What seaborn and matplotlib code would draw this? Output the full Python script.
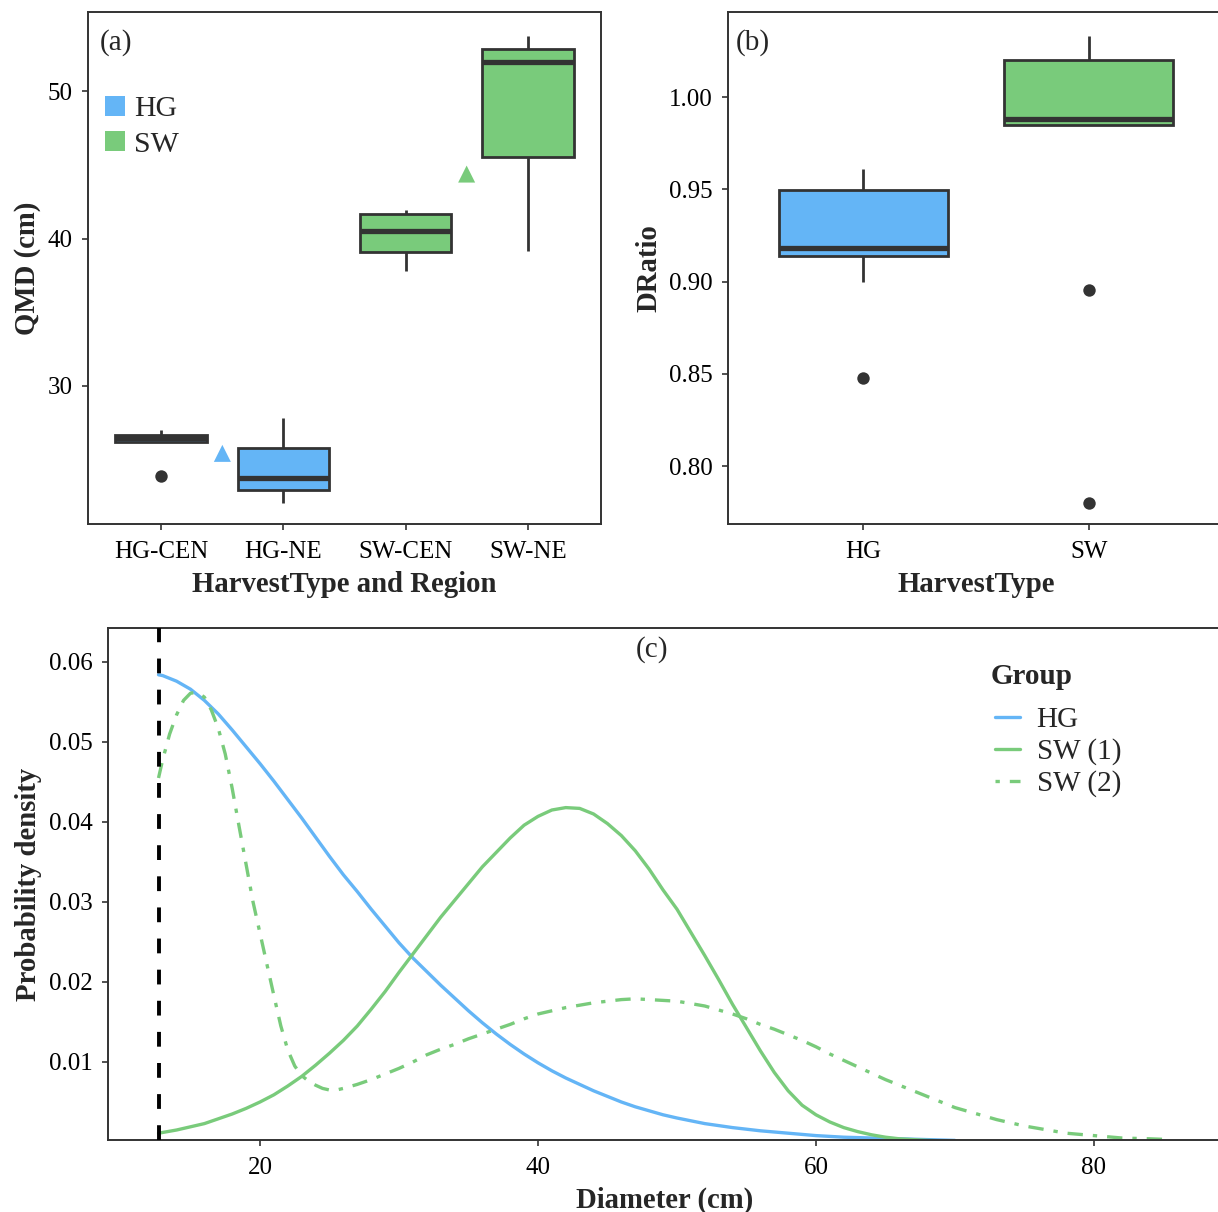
import numpy as np
import pandas as pd
import matplotlib
matplotlib.use("Agg")
import matplotlib.pyplot as plt
import seaborn as sns
from matplotlib.patches import Patch
from matplotlib.lines import Line2D

# ---------------- data ----------------
# panel (a): QMD by harvest type and region (box statistics)
region_cats = ["HG-CEN", "HG-NE", "SW-CEN", "SW-NE"]
region_type = ["HG", "HG", "SW", "SW"]
qmd_whislo = [26.20, 22.04, 37.82, 39.15]
qmd_q1 = [26.20, 22.93, 39.09, 45.55]
qmd_med = [26.45, 23.79, 40.51, 51.98]
qmd_q3 = [26.66, 25.82, 41.67, 52.87]
qmd_whishi = [27.02, 27.81, 41.91, 53.71]
qmd_outlier_cat = ["HG-CEN"]
qmd_outlier_val = [23.9]
type_names = ["HG", "SW"]
type_mean_qmd = [25.43, 44.37]

# panel (b): DRatio by harvest type
ratio_cats = ["HG", "SW"]
ratio_whislo = [0.9000, 0.9850]
ratio_q1 = [0.9137, 0.9850]
ratio_med = [0.9180, 0.9881]
ratio_q3 = [0.9494, 1.0200]
ratio_whishi = [0.9608, 1.0331]
ratio_outlier_cat = ["HG", "SW", "SW"]
ratio_outlier_val = [0.8477, 0.8953, 0.7800]

# panel (c): probability density curves
hg_d = [12.7, 13, 14, 15, 16, 17, 18, 19, 20, 21, 22, 23, 24, 25, 26, 27, 28, 29, 30,
        31, 32, 33, 34, 35, 36, 37, 38, 39, 40, 41, 42, 43, 44, 45, 46, 47, 48, 49, 50,
        52, 54, 56, 58, 60, 62, 64, 66, 68, 70]
hg_p = [0.0584, 0.0583, 0.0576, 0.0566, 0.0552, 0.0535, 0.0515, 0.0494, 0.0473, 0.0451,
        0.0428, 0.0405, 0.0381, 0.0357, 0.0334, 0.0313, 0.0291, 0.0270, 0.0249,
        0.0230, 0.0213, 0.0196, 0.0180, 0.0164, 0.0149, 0.0135, 0.0122, 0.0110, 0.0099,
        0.0089, 0.0080, 0.0072, 0.0064, 0.0057, 0.0050, 0.0044, 0.0039, 0.0034, 0.0030,
        0.0023, 0.0018, 0.0014, 0.0011, 0.0008, 0.0006, 0.0005, 0.0004, 0.0003, 0.0002]
sw1_d = [12.7, 14, 15, 16, 17, 18, 19, 20, 21, 22, 23, 24, 25, 26, 27, 28, 29, 30, 31,
         32, 33, 34, 35, 36, 37, 38, 39, 40, 41, 42, 43, 44, 45, 46, 47, 48, 49, 50, 51,
         52, 53, 54, 55, 56, 57, 58, 59, 60, 61, 62, 63, 64, 65, 66, 68, 70, 74]
sw1_p = [0.0011, 0.0015, 0.0019, 0.0023, 0.0029, 0.0035, 0.0042, 0.0050, 0.0059, 0.0070,
         0.0082, 0.0096, 0.0111, 0.0127, 0.0145, 0.0166, 0.0188, 0.0212, 0.0235,
         0.0258, 0.0281, 0.0302, 0.0323, 0.0344, 0.0362, 0.0380, 0.0396, 0.0407, 0.0415,
         0.0418, 0.0417, 0.0410, 0.0398, 0.0383, 0.0364, 0.0341, 0.0315, 0.0291, 0.0262,
         0.0233, 0.0203, 0.0172, 0.0143, 0.0114, 0.0087, 0.0064, 0.0046, 0.0034, 0.0025,
         0.0018, 0.0013, 0.0009, 0.0006, 0.0004, 0.0002, 0.0001, 0.0000]
sw2_d = [12.7, 13.0, 13.5, 14.0, 14.5, 15.0, 15.5, 16.0, 16.5, 17.0, 17.5, 18.0, 18.5,
         19.0, 19.5, 20.0, 20.5, 21.0, 21.5, 22.0, 22.5, 23.0, 23.5, 24.0, 24.5, 25.0,
         25.5, 26.0, 27, 28, 29, 30, 31, 32, 33, 34, 35, 36, 37, 38, 39, 40, 41, 42, 43,
         44, 45, 46, 47, 48, 49, 50, 51, 52, 53, 54, 55, 56, 57, 58, 59, 60, 61, 62, 63,
         64, 65, 66, 67, 68, 69, 70, 71, 72, 73, 74, 75, 76, 77, 78, 80, 82, 84, 85.5]
sw2_p = [0.0455, 0.0478, 0.0510, 0.0534, 0.0552, 0.0561, 0.0562, 0.0556, 0.0540, 0.0517,
         0.0485, 0.0442, 0.0394, 0.0347, 0.0300, 0.0261, 0.0222, 0.0183, 0.0145, 0.0115,
         0.0095, 0.0083, 0.0076, 0.0071, 0.0067, 0.0065, 0.0065, 0.0067, 0.0072, 0.0078,
         0.0085, 0.0092, 0.0100, 0.0109, 0.0116, 0.0122, 0.0129, 0.0135, 0.0141, 0.0147,
         0.0154, 0.0160, 0.0164, 0.0168, 0.0171, 0.0174, 0.0176, 0.0178, 0.0179, 0.0178,
         0.0177, 0.0176, 0.0173, 0.0170, 0.0165, 0.0160, 0.0154, 0.0147, 0.0141, 0.0134,
         0.0127, 0.0119, 0.0110, 0.0102, 0.0094, 0.0086, 0.0078, 0.0071, 0.0064, 0.0057,
         0.0050, 0.0043, 0.0038, 0.0033, 0.0028, 0.0024, 0.0020, 0.0017, 0.0014, 0.0011,
         0.0008, 0.0005, 0.0004, 0.0003]
group_names = ["HG", "SW (1)", "SW (2)"]
min_diameter = 12.7

# ---------------- style ----------------
BLUE = "#64B5F6"
GREEN = "#79CB7B"
DARK = "#333333"
sns.set_style("ticks")
plt.rcParams["font.family"] = ["Liberation Serif", "DejaVu Serif"]
plt.rcParams["axes.edgecolor"] = DARK
plt.rcParams["axes.linewidth"] = 1.4
plt.rcParams["xtick.color"] = DARK
plt.rcParams["ytick.color"] = DARK
plt.rcParams["xtick.labelcolor"] = "black"
plt.rcParams["ytick.labelcolor"] = "black"
plt.rcParams["xtick.major.size"] = 4.5
plt.rcParams["ytick.major.size"] = 4.5
plt.rcParams["xtick.major.width"] = 1.2
plt.rcParams["ytick.major.width"] = 1.2
plt.rcParams["xtick.major.pad"] = 7.5
plt.rcParams["ytick.major.pad"] = 6.5
plt.rcParams["xtick.labelsize"] = 18
plt.rcParams["ytick.labelsize"] = 18

W, H = 1218, 1212
fig = plt.figure(figsize=(W / 100, H / 100), dpi=100)
fig.patch.set_facecolor("white")


def ax_at(l, t, r, b):
    return fig.add_axes([l / W, 1 - b / H, (r - l) / W, (b - t) / H])


ax_a = ax_at(88, 12, 601, 524)
ax_b = ax_at(728, 12, 1224, 524)
ax_c = ax_at(108, 628, 1221, 1140)

type_pal = {"HG": BLUE, "SW": GREEN}
box_kw = dict(width=0.75, linecolor=DARK, linewidth=2.0, saturation=1, showcaps=False,
              showfliers=False, whis=(0, 100), medianprops={"linewidth": 3.8},
              legend=False)
LAB = 20.7

# ---------------- panel (a) ----------------
stats_a = np.column_stack([qmd_whislo, qmd_q1, qmd_med, qmd_q3, qmd_whishi])
df_a = pd.DataFrame({
    "Group": np.repeat(region_cats, 5),
    "Type": np.repeat(region_type, 5),
    "QMD": stats_a.ravel(),
})
sns.boxplot(data=df_a, x="Group", y="QMD", hue="Type", order=region_cats,
            palette=type_pal, dodge=False, ax=ax_a, **box_kw)
ax_a.scatter([region_cats.index(c) for c in qmd_outlier_cat], qmd_outlier_val,
             s=80, color=DARK, zorder=5, linewidths=0)
# group means drawn between the two regions of each harvest type
mean_x = [np.mean([i for i, t in enumerate(region_type) if t == tn]) for tn in type_names]
ax_a.scatter(mean_x, type_mean_qmd, marker="^", s=150,
             color=[type_pal[t] for t in type_names], zorder=5, linewidths=0)
ax_a.set_xlim(-0.6, 3.6)
ax_a.set_ylim(20.64, 55.36)
ax_a.set_yticks([30, 40, 50])
ax_a.set_xlabel("HarvestType and Region", fontsize=LAB, fontweight="bold", labelpad=6)
ax_a.set_ylabel("QMD (cm)", fontsize=LAB, fontweight="bold", labelpad=5)
ax_a.text(0.023, 0.941, "(a)", transform=ax_a.transAxes, fontsize=21,
          ha="left", va="center")
ax_a.legend(handles=[Patch(facecolor=type_pal[t], edgecolor="none", label=t)
                     for t in type_names],
            loc="upper left", bbox_to_anchor=(0.004, 0.866), frameon=False,
            fontsize=21.5, handlelength=0.67, handleheight=0.67,
            handletextpad=0.3, labelspacing=0.3, borderpad=0)

# ---------------- panel (b) ----------------
stats_b = np.column_stack([ratio_whislo, ratio_q1, ratio_med, ratio_q3, ratio_whishi])
df_b = pd.DataFrame({
    "HarvestType": np.repeat(ratio_cats, 5),
    "DRatio": stats_b.ravel(),
})
sns.boxplot(data=df_b, x="HarvestType", y="DRatio", hue="HarvestType", order=ratio_cats,
            palette=type_pal, dodge=False, ax=ax_b, **box_kw)
ax_b.scatter([ratio_cats.index(c) for c in ratio_outlier_cat], ratio_outlier_val,
             s=80, color=DARK, zorder=5, linewidths=0)
ax_b.set_xlim(-0.6, 1.6)
ax_b.set_ylim(0.7686, 1.0461)
bt = [0.80, 0.85, 0.90, 0.95, 1.00]
ax_b.set_yticks(bt)
ax_b.set_yticklabels([f"{v:.2f}" for v in bt])
ax_b.set_xlabel("HarvestType", fontsize=LAB, fontweight="bold", labelpad=6)
ax_b.set_ylabel("DRatio", fontsize=LAB, fontweight="bold", labelpad=5)
ax_b.text(0.016, 0.941, "(b)", transform=ax_b.transAxes, fontsize=21,
          ha="left", va="center")

# ---------------- panel (c) ----------------
df_c = pd.concat([
    pd.DataFrame({"Diameter": hg_d, "Density": hg_p, "Group": group_names[0]}),
    pd.DataFrame({"Diameter": sw1_d, "Density": sw1_p, "Group": group_names[1]}),
    pd.DataFrame({"Diameter": sw2_d, "Density": sw2_p, "Group": group_names[2]}),
], ignore_index=True)
line_pal = {group_names[0]: BLUE, group_names[1]: GREEN, group_names[2]: GREEN}
line_dash = {group_names[0]: "", group_names[1]: "", group_names[2]: (4.6, 3.0, 1.3, 3.0)}
LW = 2.4
sns.lineplot(data=df_c, x="Diameter", y="Density", hue="Group", style="Group",
             palette=line_pal, dashes=line_dash, estimator=None, sort=False,
             linewidth=LW, legend=False, ax=ax_c)
ax_c.axvline(min_diameter, color="black", linewidth=2.8, dashes=(3.8, 4.2), zorder=6)
ax_c.set_xlim(9.065, 89.14)
ax_c.set_ylim(0.00025, 0.06425)
ax_c.set_xticks([20, 40, 60, 80])
yt = [0.01, 0.02, 0.03, 0.04, 0.05, 0.06]
ax_c.set_yticks(yt)
ax_c.set_yticklabels([f"{v:.2f}" for v in yt])
ax_c.set_xlabel("Diameter (cm)", fontsize=LAB, fontweight="bold", labelpad=6)
ax_c.set_ylabel("Probability density", fontsize=LAB, fontweight="bold", labelpad=5)
ax_c.text(0.4888, 0.957, "(c)", transform=ax_c.transAxes, fontsize=21,
          ha="center", va="center")
ax_c.text(0.7934, 0.906, "Group", transform=ax_c.transAxes, fontsize=21,
          fontweight="bold", ha="left", va="center")
handles_c = []
for g in group_names:
    h = Line2D([], [], color=line_pal[g], linewidth=LW)
    if line_dash[g]:
        h.set_dashes((1.3, 3.0, 4.6, 3.0))
    handles_c.append(h)
ax_c.legend(handles=handles_c, labels=group_names,
            loc="upper left", bbox_to_anchor=(0.7835, 0.875), frameon=False,
            fontsize=21, handlelength=0.86, handletextpad=0.58,
            labelspacing=0.18, borderpad=0)

for ax in (ax_a, ax_b, ax_c):
    for s in ax.spines.values():
        s.set_visible(True)
        s.set_color(DARK)
        s.set_linewidth(1.4)
    ax.grid(False)
    ax.set_facecolor("white")

fig.savefig("out.png", dpi=100, facecolor="white")
